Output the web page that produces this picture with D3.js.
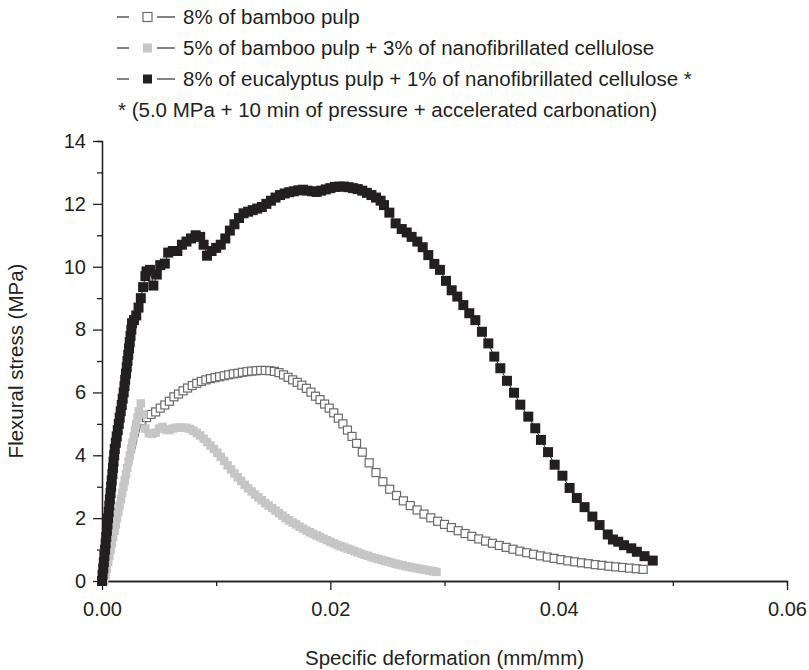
<!DOCTYPE html>
<html><head>
<meta charset="utf-8">
<title>Flexural stress vs specific deformation</title>
<script src="https://d3js.org/d3.v7.min.js"></script>
<style>
  body { margin: 0; background: #fff; }
  svg text { font-family: "Liberation Sans", Arial, sans-serif; fill: #231f20; }
  .axis path, .axis line { stroke: #231f20; stroke-width: 1.3; }
  .axis text { font-size: 20px; }
  .legend text, .title { font-size: 20.5px; }
</style>
</head>
<body>
<svg id="chart" width="809" height="670"></svg>

<script>
// values: [specific deformation (mm/mm), flexural stress (MPa)]

// 8% of bamboo pulp (open squares)
const bamboo = [
  [0,0],[0.0035,5.1],[0.0039,5.2],[0.0043,5.3],[0.0047,5.38],[0.0051,5.5],[0.0055,5.6],
  [0.0059,5.72],[0.0063,5.86],[0.0067,5.95],[0.0071,6.05],[0.0075,6.14],[0.0079,6.22],
  [0.0083,6.29],[0.0087,6.35],[0.0091,6.4],[0.0095,6.44],[0.0099,6.47],[0.0103,6.5],
  [0.0107,6.53],[0.0111,6.56],[0.0115,6.59],[0.0119,6.61],[0.0123,6.64],[0.0127,6.66],
  [0.0131,6.68],[0.0135,6.69],[0.0139,6.7],[0.0143,6.7],[0.0147,6.69],[0.0151,6.67],
  [0.0155,6.63],[0.0159,6.56],[0.0163,6.48],[0.0167,6.4],[0.0171,6.32],[0.0175,6.23],
  [0.0179,6.13],[0.0183,6.01],[0.0187,5.88],[0.0191,5.77],[0.0195,5.63],[0.0199,5.5],
  [0.0203,5.35],[0.0207,5.18],[0.0211,5.0],[0.0215,4.8],[0.0219,4.6],[0.0223,4.38],
  [0.0228,4.1],[0.0234,3.76],[0.024,3.45],[0.0246,3.16],[0.0252,2.92],[0.0258,2.72],
  [0.0264,2.55],[0.027,2.4],[0.0276,2.26],[0.0282,2.13],[0.0288,2.01],[0.0294,1.9],
  [0.03,1.8],[0.0306,1.7],[0.0312,1.6],[0.0318,1.51],[0.0324,1.42],[0.033,1.34],
  [0.0336,1.27],[0.0342,1.2],[0.0348,1.13],[0.0354,1.07],[0.036,1.01],[0.0366,0.95],
  [0.0372,0.9],[0.0378,0.85],[0.0384,0.8],[0.039,0.76],[0.0396,0.72],[0.0402,0.68],
  [0.0408,0.64],[0.0414,0.61],[0.042,0.58],[0.0426,0.55],[0.0432,0.52],[0.0438,0.5],
  [0.0444,0.47],[0.045,0.45],[0.0456,0.43],[0.0462,0.41],[0.0468,0.39],[0.0474,0.37]
];

// 5% of bamboo pulp + 3% of nanofibrillated cellulose (grey squares)
const bambooNfc = [
  [0.0002,0],[0.00031,0.2],[0.00042,0.4],[0.00054,0.6],[0.00065,0.8],[0.00076,1.0],
  [0.00087,1.2],[0.00098,1.4],[0.0011,1.6],[0.00121,1.8],[0.00132,2.0],[0.00143,2.2],
  [0.00154,2.4],[0.00166,2.6],[0.00177,2.8],[0.00188,3.0],[0.00199,3.2],[0.0021,3.4],
  [0.00222,3.6],[0.00233,3.8],[0.00244,4.0],[0.00255,4.2],[0.00266,4.4],[0.00278,4.6],
  [0.00289,4.8],[0.003,5.0],[0.00311,5.2],[0.00322,5.4],[0.0034,5.65],[0.0036,5.3],
  [0.0038,4.85],[0.0041,4.7],[0.0044,4.68],[0.0047,4.72],[0.005,4.85],[0.0053,4.9],
  [0.0056,4.82],[0.0059,4.8],[0.0062,4.85],[0.0065,4.88],[0.0068,4.88],[0.0071,4.88],
  [0.0074,4.87],[0.0077,4.84],[0.008,4.78],[0.0083,4.71],[0.0086,4.63],[0.0089,4.53],
  [0.0092,4.42],[0.0095,4.31],[0.0098,4.2],[0.0101,4.08],[0.0104,3.95],[0.0107,3.82],
  [0.011,3.68],[0.0113,3.55],[0.0116,3.42],[0.0119,3.3],[0.0122,3.18],[0.0125,3.06],
  [0.0128,2.95],[0.0131,2.85],[0.0134,2.75],[0.0137,2.66],[0.014,2.57],[0.0143,2.48],
  [0.0146,2.4],[0.0149,2.32],[0.0152,2.24],[0.0155,2.16],[0.0158,2.08],[0.0161,2.0],
  [0.0164,1.93],[0.0167,1.86],[0.017,1.8],[0.0173,1.73],[0.0176,1.67],[0.0179,1.61],
  [0.0182,1.55],[0.0185,1.5],[0.0188,1.45],[0.0191,1.4],[0.0194,1.35],[0.0197,1.3],
  [0.02,1.25],[0.0203,1.2],[0.0206,1.15],[0.0209,1.11],[0.0212,1.07],[0.0215,1.03],
  [0.0218,0.99],[0.0221,0.95],[0.0224,0.91],[0.0227,0.87],[0.023,0.83],[0.0233,0.8],
  [0.0236,0.76],[0.0239,0.73],[0.0242,0.7],[0.0245,0.67],[0.0248,0.64],[0.0251,0.61],
  [0.0254,0.58],[0.0257,0.55],[0.026,0.52],[0.0263,0.5],[0.0266,0.47],[0.0269,0.45],
  [0.0272,0.43],[0.0275,0.41],[0.0278,0.39],[0.0281,0.37],[0.0284,0.35],[0.0287,0.33],
  [0.029,0.31],[0.0293,0.29]
];

// 8% of eucalyptus pulp + 1% of nanofibrillated cellulose * (black squares)
const eucalyptusNfc = [
  [0,0],[0.00005,0.2],[0.00011,0.4],[0.00016,0.6],[0.00021,0.8],[0.00027,1.0],[0.00032,1.2],
  [0.00037,1.4],[0.00043,1.6],[0.00048,1.8],[0.00053,2.0],[0.00059,2.2],[0.00064,2.4],
  [0.00069,2.6],[0.00075,2.8],[0.0008,3.0],[0.00085,3.2],[0.00091,3.4],[0.00096,3.6],
  [0.00101,3.8],[0.00107,4.0],[0.00112,4.2],[0.00121,4.4],[0.00129,4.6],[0.00138,4.8],
  [0.00147,5.0],[0.00155,5.2],[0.00164,5.4],[0.00173,5.6],[0.00181,5.8],[0.0019,6.0],
  [0.00197,6.2],[0.00203,6.4],[0.0021,6.6],[0.00217,6.8],[0.00223,7.0],[0.0023,7.2],
  [0.00237,7.4],[0.00243,7.6],[0.0025,7.8],[0.00257,8.0],[0.00263,8.2],[0.0028,8.3],
  [0.003,8.45],[0.0032,8.7],[0.0034,9.0],[0.0036,9.35],[0.0038,9.7],[0.0039,9.85],
  [0.0042,9.9],[0.0045,9.4],[0.0048,9.75],[0.0051,10.05],[0.0055,10.1],[0.0058,10.45],
  [0.0062,10.5],[0.0066,10.5],[0.007,10.7],[0.0074,10.8],[0.0078,10.9],[0.0082,11.0],
  [0.0086,10.95],[0.0089,10.7],[0.0092,10.35],[0.0096,10.5],[0.01,10.6],[0.0104,10.7],
  [0.0108,10.9],[0.0112,11.15],[0.0116,11.35],[0.012,11.55],[0.0124,11.7],[0.0128,11.75],
  [0.0132,11.8],[0.0136,11.85],[0.014,11.9],[0.0144,12.0],[0.0148,12.1],[0.0152,12.2],
  [0.0156,12.28],[0.016,12.33],[0.0164,12.37],[0.0168,12.4],[0.0172,12.43],[0.0176,12.45],
  [0.018,12.42],[0.0184,12.4],[0.0188,12.38],[0.0192,12.42],[0.0196,12.46],[0.02,12.5],
  [0.0204,12.54],[0.0208,12.55],[0.0212,12.55],[0.0216,12.53],[0.022,12.5],[0.0224,12.47],
  [0.0228,12.42],[0.0232,12.35],[0.0236,12.28],[0.024,12.2],[0.0244,12.1],[0.0247,11.96],
  [0.02517,11.72],[0.02572,11.38],[0.02625,11.2],[0.02669,11.09],[0.02712,10.95],
  [0.02762,10.8],[0.02809,10.62],[0.02858,10.37],[0.02911,10.09],[0.0296,9.9],
  [0.03013,9.55],[0.03063,9.25],[0.03112,9.05],[0.03165,8.78],[0.03217,8.52],[0.0327,8.3],
  [0.03328,7.93],[0.03384,7.56],[0.03436,7.14],[0.03489,6.77],[0.03547,6.37],
  [0.03609,5.99],[0.03664,5.61],[0.03734,5.23],[0.03795,4.86],[0.03845,4.49],
  [0.03907,4.1],[0.03965,3.7],[0.04033,3.35],[0.04096,2.96],[0.04159,2.64],[0.04227,2.35],
  [0.04295,2.05],[0.04358,1.78],[0.0443,1.48],[0.04475,1.32],[0.04522,1.25],
  [0.04572,1.14],[0.04636,1.04],[0.04685,0.93],[0.04752,0.79],[0.04824,0.65]
];

const legendLabels = [
  "8% of bamboo pulp",
  "5% of bamboo pulp + 3% of nanofibrillated cellulose",
  "8% of eucalyptus pulp + 1% of nanofibrillated cellulose *"
];
const footnote = "* (5.0 MPa + 10 min of pressure + accelerated carbonation)";

const xMajorTicks = [0, 0.02, 0.04, 0.06];
const xMinorTicks = [0.01, 0.03, 0.05];
const yMajorTicks = [0, 2, 4, 6, 8, 10, 12, 14];
const yMinorTicks = [1, 3, 5, 7, 9, 11, 13];

// styling per series (drawn open first, black last so it sits on top)
const series = [
  { data: bamboo,        fill: "#ffffff", stroke: "#6a6a6a", line: "#555555", size: 8 },
  { data: bambooNfc,     fill: "#c6c6c6", stroke: "none",    line: "#b5b5b5", size: 8.5 },
  { data: eucalyptusNfc, fill: "#231f20", stroke: "none",    line: "#231f20", size: 10 }
];

let svg = d3.select("svg#chart");
let width = +svg.attr("width");
let height = +svg.attr("height");
let margin = { top: 141, right: 22, bottom: 89, left: 102 };
let chartWidth = width - margin.left - margin.right;
let chartHeight = height - margin.top - margin.bottom;

const xScale = d3.scaleLinear().domain([0, 0.06]).range([0, chartWidth]);
const yScale = d3.scaleLinear().domain([0, 14]).range([chartHeight, 0]);

let chart = svg.append("g")
  .attr("transform", "translate(" + margin.left + "," + margin.top + ")");

// axes - minor ticks are just a second, label-less axis
chart.append("g").attr("class", "x axis minor")
  .attr("transform", "translate(0," + chartHeight + ")")
  .call(d3.axisBottom(xScale).tickValues(xMinorTicks).tickSize(5).tickFormat(""));
chart.append("g").attr("class", "x axis")
  .attr("transform", "translate(0," + chartHeight + ")")
  .call(d3.axisBottom(xScale).tickValues(xMajorTicks).tickSizeInner(9).tickSizeOuter(0)
    .tickPadding(12).tickFormat(d3.format(".2f")));

chart.append("g").attr("class", "y axis minor")
  .call(d3.axisLeft(yScale).tickValues(yMinorTicks).tickSize(5).tickFormat(""));
chart.append("g").attr("class", "y axis")
  .call(d3.axisLeft(yScale).tickValues(yMajorTicks).tickSizeInner(9).tickSizeOuter(0)
    .tickPadding(7).tickFormat(d3.format("d")));

svg.selectAll(".axis text").attr("font-family", null);

// axis titles
svg.append("text").attr("class", "title")
  .attr("x", margin.left + chartWidth / 2).attr("y", 665)
  .attr("text-anchor", "middle")
  .text("Specific deformation (mm/mm)");
svg.append("text").attr("class", "title")
  .attr("transform", "translate(23," + (margin.top + chartHeight / 2) + ") rotate(-90)")
  .attr("text-anchor", "middle")
  .text("Flexural stress (MPa)");

// series: thin connecting line + square markers
let line = d3.line().x(d => xScale(d[0])).y(d => yScale(d[1]));

series.forEach(s => {
  let g = chart.append("g");
  g.append("path")
    .attr("d", line(s.data))
    .attr("fill", "none")
    .attr("stroke", s.line)
    .attr("stroke-width", 1);
  g.selectAll("rect").data(s.data).enter().append("rect")
    .attr("x", d => xScale(d[0]) - s.size / 2)
    .attr("y", d => yScale(d[1]) - s.size / 2)
    .attr("width", s.size)
    .attr("height", s.size)
    .attr("fill", s.fill)
    .attr("stroke", s.stroke)
    .attr("stroke-width", 1.2);
});

// legend at top
let legend = svg.append("g").attr("class", "legend");
const rowY = [17, 48, 79];
legendLabels.forEach((label, i) => {
  let s = series[i];
  let y = rowY[i];
  legend.append("line").attr("x1", 117).attr("x2", 129).attr("y1", y).attr("y2", y)
    .attr("stroke", "#333").attr("stroke-width", 1.2);
  legend.append("line").attr("x1", 157).attr("x2", 175).attr("y1", y).attr("y2", y)
    .attr("stroke", "#333").attr("stroke-width", 1.2);
  let ms = 9;
  legend.append("rect")
    .attr("x", 147.5 - ms / 2).attr("y", y - ms / 2)
    .attr("width", ms).attr("height", ms)
    .attr("fill", s.fill).attr("stroke", s.stroke).attr("stroke-width", 1.2);
  legend.append("text").attr("x", 183).attr("y", y).attr("dy", "0.36em").text(label);
});
legend.append("text").attr("x", 118).attr("y", 110).attr("dy", "0.36em").text(footnote);
</script>
</body>
</html>
